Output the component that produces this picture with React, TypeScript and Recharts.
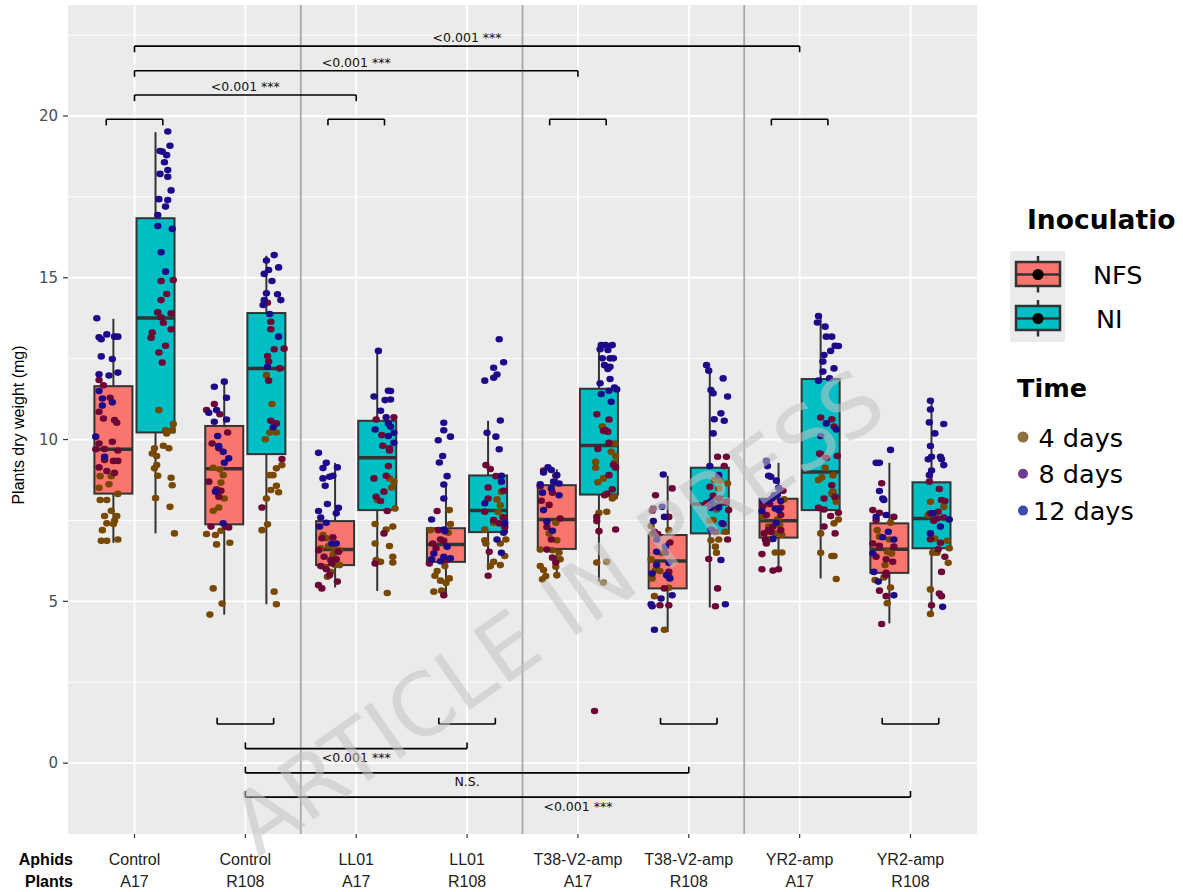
import React from "react";
import {
  ComposedChart,
  Bar,
  Scatter,
  XAxis,
  YAxis,
  CartesianGrid,
  ReferenceLine,
} from "recharts";

type Pt = [number, number]; // [x offset from the category, dry weight]
interface BoxPoints {
  d4: Pt[];
  d8: Pt[];
  d12: Pt[];
}

// ---- categories ----
const APHIDS = ["Control", "Control", "LL01", "LL01", "T38-V2-amp", "T38-V2-amp", "YR2-amp", "YR2-amp"];
const PLANTS = ["A17", "R108", "A17", "R108", "A17", "R108", "A17", "R108"];
const CAT_TICKS = [1, 2, 3, 4, 5, 6, 7, 8];
const Y_TICKS = [0, 5, 10, 15, 20];
const Y_MINOR = [2.5, 7.5, 12.5, 17.5, 22.5];
const GROUP_SEPARATORS = [2.5, 4.5, 6.5];

// ---- box statistics: [lower whisker, q1, median, q3, upper whisker] ----
const NFS_STATS = [
  [6.81, 8.33, 9.7, 11.65, 13.73],
  [4.59, 7.38, 9.1, 10.42, 11.78],
  [5.43, 6.12, 6.6, 7.48, 9.28],
  [5.19, 6.22, 6.76, 7.26, 8.62],
  [5.71, 6.62, 7.53, 8.59, 9.08],
  [4.05, 5.4, 6.25, 7.05, 8.88],
  [5.99, 6.97, 7.49, 8.17, 9.28],
  [4.32, 5.88, 6.61, 7.41, 9.28],
];
const NI_STATS = [
  [7.1, 10.22, 13.76, 16.84, 19.5],
  [4.91, 9.55, 12.2, 13.91, 15.68],
  [5.32, 7.82, 9.44, 10.58, 12.74],
  [5.97, 7.14, 7.81, 8.89, 10.58],
  [5.61, 8.3, 9.82, 11.57, 12.89],
  [4.81, 7.1, 8.01, 9.13, 12.07],
  [5.71, 7.82, 9.0, 11.87, 13.82],
  [4.68, 6.64, 7.56, 8.68, 11.2],
];

// ---- jittered plants ----
const CTRL_A17_NFS: BoxPoints = {
  d12: [[-0.34, 13.75], [-0.32, 13.16], [-0.3, 13.1], [-0.25, 13.25], [-0.18, 13.18], [-0.15, 13.18], [-0.3, 12.57], [-0.2, 12.49], [-0.32, 12.02], [-0.23, 11.98], [-0.15, 12.07], [-0.32, 11.5], [-0.29, 11.27], [-0.2, 11.15], [-0.29, 11.05], [-0.35, 10.09], [-0.27, 9.47]],
  d8: [[-0.32, 11.84], [-0.28, 11.68], [-0.22, 11.29], [-0.32, 10.86], [-0.28, 10.65], [-0.18, 10.6], [-0.16, 10.52], [-0.32, 9.88], [-0.2, 9.93], [-0.35, 9.7], [-0.27, 9.71], [-0.15, 9.66], [-0.27, 9.37], [-0.19, 9.34], [-0.15, 9.34], [-0.32, 9.14], [-0.25, 9.03], [-0.18, 8.97]],
  d4: [[-0.31, 8.87], [-0.21, 8.87], [-0.23, 8.62], [-0.32, 8.51], [-0.15, 8.32], [-0.31, 8.13], [-0.25, 8.13], [-0.21, 7.8], [-0.27, 7.64], [-0.16, 7.64], [-0.18, 7.49], [-0.25, 7.41], [-0.19, 7.39], [-0.29, 7.2], [-0.3, 6.87], [-0.25, 6.87], [-0.15, 6.91]],
};
const CTRL_A17_NI: BoxPoints = {
  d12: [[0.3, 19.52], [0.32, 19.08], [0.23, 18.92], [0.25, 18.9], [0.29, 18.79], [0.27, 18.57], [0.23, 18.21], [0.3, 18.33], [0.3, 18.12], [0.33, 17.7], [0.22, 17.43], [0.3, 17.4], [0.28, 17.2], [0.21, 16.94], [0.21, 16.6], [0.34, 16.51], [0.24, 15.79], [0.28, 15.19]],
  d8: [[0.24, 14.9], [0.35, 14.93], [0.29, 14.5], [0.24, 14.31], [0.21, 13.93], [0.33, 13.9], [0.24, 13.78], [0.26, 13.61], [0.33, 13.41], [0.16, 13.31], [0.15, 13.15], [0.28, 12.9], [0.22, 12.69], [0.25, 12.38]],
  d4: [[0.22, 10.91], [0.28, 10.29], [0.35, 10.48], [0.29, 10.19], [0.34, 10.29], [0.18, 9.73], [0.16, 9.57], [0.26, 9.81], [0.31, 9.73], [0.2, 9.49], [0.2, 9.21], [0.18, 9.11], [0.21, 8.88], [0.33, 8.82], [0.34, 8.59], [0.19, 8.19], [0.32, 7.92], [0.36, 7.1]],
};
const CTRL_R108_NFS: BoxPoints = {
  d12: [[-0.19, 11.79], [-0.28, 11.63], [-0.17, 11.29], [-0.26, 10.91], [-0.33, 10.83], [-0.28, 10.55], [-0.17, 10.62], [-0.25, 10.11], [-0.24, 9.8], [-0.2, 9.62], [-0.15, 9.42], [-0.19, 9.28], [-0.27, 8.39], [-0.2, 7.41]],
  d8: [[-0.28, 11.1], [-0.35, 10.91], [-0.23, 10.78], [-0.16, 10.22], [-0.3, 9.88], [-0.24, 9.73], [-0.33, 8.7], [-0.26, 8.46], [-0.22, 8.42], [-0.24, 8.23], [-0.31, 7.31], [-0.18, 7.31], [-0.15, 7.28]],
  d4: [[-0.29, 9.13], [-0.23, 9.08], [-0.2, 8.9], [-0.22, 8.67], [-0.19, 8.18], [-0.29, 7.8], [-0.24, 7.9], [-0.35, 7.08], [-0.27, 7.05], [-0.22, 7.18], [-0.26, 6.76], [-0.14, 6.81], [-0.29, 5.4], [-0.21, 4.93], [-0.32, 4.59]],
};
const CTRL_R108_NI: BoxPoints = {
  d12: [[0.26, 15.7], [0.19, 15.53], [0.21, 15.24], [0.3, 15.32], [0.17, 15.12], [0.24, 14.9], [0.19, 14.52], [0.29, 14.49], [0.17, 14.31], [0.32, 14.31], [0.16, 14.16], [0.22, 13.88], [0.3, 13.18], [0.2, 12.25], [0.25, 10.38]],
  d8: [[0.2, 14.23], [0.23, 13.64], [0.23, 13.41], [0.26, 12.79], [0.35, 12.81], [0.2, 12.58], [0.21, 12.41], [0.31, 12.2], [0.21, 11.82], [0.23, 10.58], [0.28, 10.5], [0.33, 9.4], [0.15, 7.9]],
  d4: [[0.19, 11.99], [0.24, 11.1], [0.18, 10.01], [0.22, 10.22], [0.28, 10.22], [0.33, 9.21], [0.28, 9.11], [0.22, 8.9], [0.25, 8.9], [0.28, 8.57], [0.23, 8.44], [0.3, 8.37], [0.19, 8.18], [0.2, 7.38], [0.15, 7.2], [0.26, 5.3], [0.28, 4.91]],
};
const LL01_A17_NFS: BoxPoints = {
  d12: [[-0.34, 9.59], [-0.27, 9.28], [-0.17, 9.14], [-0.3, 9.12], [-0.3, 8.8], [-0.24, 8.85], [-0.21, 8.88], [-0.28, 8.57], [-0.26, 8.01], [-0.16, 7.89], [-0.34, 7.79], [-0.18, 7.72], [-0.32, 7.59], [-0.27, 7.43], [-0.33, 7.31], [-0.22, 6.79], [-0.18, 6.79]],
  d8: [[-0.21, 6.98], [-0.31, 6.95], [-0.34, 6.58], [-0.16, 6.53], [-0.29, 6.38], [-0.23, 6.28], [-0.18, 6.3], [-0.32, 6.09], [-0.27, 5.99], [-0.24, 5.81], [-0.17, 5.61], [-0.34, 5.5], [-0.31, 5.4], [-0.22, 6.17]],
  d4: [[-0.3, 7.05], [-0.27, 6.95], [-0.25, 6.71], [-0.2, 6.6], [-0.32, 6.64], [-0.15, 6.58], [-0.21, 6.43], [-0.15, 6.12], [-0.28, 6.05], [-0.19, 6.12], [-0.23, 5.91], [-0.26, 5.76]],
};
const LL01_A17_NI: BoxPoints = {
  d12: [[0.2, 12.74], [0.29, 11.51], [0.31, 11.5], [0.16, 11.33], [0.26, 11.22], [0.31, 11.24], [0.22, 10.89], [0.27, 10.69], [0.29, 10.5], [0.34, 10.21], [0.31, 10.4], [0.17, 10.31], [0.29, 10.11], [0.34, 9.9]],
  d8: [[0.18, 10.62], [0.34, 10.69], [0.23, 10.14], [0.24, 9.81], [0.3, 9.73], [0.3, 9.66], [0.29, 9.18], [0.16, 8.8], [0.27, 8.88], [0.25, 8.39], [0.18, 8.23], [0.22, 8.1], [0.28, 7.79], [0.25, 7.1], [0.17, 6.17]],
  d4: [[0.3, 8.8], [0.34, 8.7], [0.32, 8.52], [0.19, 8.13], [0.35, 7.87], [0.17, 7.39], [0.33, 7.31], [0.27, 7.22], [0.17, 6.79], [0.3, 6.71], [0.33, 6.38], [0.18, 6.28], [0.22, 6.22], [0.33, 6.2], [0.28, 5.26]],
};
const LL01_R108_NFS: BoxPoints = {
  d12: [[-0.21, 10.52], [-0.21, 10.29], [-0.26, 9.98], [-0.15, 10.09], [-0.22, 9.49], [-0.25, 9.29], [-0.18, 8.87], [-0.21, 8.61], [-0.21, 8.18], [-0.32, 7.53], [-0.21, 7.22], [-0.2, 7.17], [-0.18, 6.69], [-0.3, 6.48], [-0.21, 6.38], [-0.32, 6.3], [-0.24, 6.24], [-0.15, 6.33]],
  d8: [[-0.27, 7.79], [-0.26, 7.2], [-0.31, 6.79], [-0.21, 6.87], [-0.28, 6.64], [-0.24, 6.91], [-0.18, 6.28], [-0.34, 6.17], [-0.21, 5.19]],
  d4: [[-0.16, 7.82], [-0.15, 7.39], [-0.33, 7.2], [-0.17, 7.12], [-0.2, 6.09], [-0.27, 5.94], [-0.29, 5.79], [-0.16, 5.71], [-0.24, 5.64], [-0.19, 5.57], [-0.3, 5.3], [-0.23, 5.33]],
};
const LL01_R108_NI: BoxPoints = {
  d12: [[0.29, 13.1], [0.33, 12.39], [0.24, 12.22], [0.27, 12.01], [0.24, 11.91], [0.16, 11.82], [0.3, 10.59], [0.18, 10.21], [0.26, 10.09], [0.29, 9.7], [0.31, 8.88], [0.31, 8.7], [0.16, 8.03], [0.34, 7.41], [0.27, 6.91], [0.31, 6.5], [0.33, 7.12]],
  d8: [[0.17, 9.21], [0.21, 9.09], [0.26, 8.87], [0.19, 8.52], [0.33, 8.42], [0.19, 8.18], [0.16, 7.77], [0.33, 7.59], [0.24, 7.51], [0.29, 7.41], [0.34, 7.3], [0.2, 6.53], [0.19, 5.79]],
  d4: [[0.31, 8.39], [0.27, 8.15], [0.16, 7.22], [0.3, 7.97], [0.28, 7.77], [0.32, 7.61], [0.24, 7.43], [0.16, 6.89], [0.17, 6.79], [0.3, 6.79], [0.35, 6.91], [0.34, 6.4], [0.24, 6.22], [0.21, 6.09], [0.3, 6.12]],
};
const T38_A17_NFS: BoxPoints = {
  d12: [[-0.27, 9.14], [-0.24, 9.06], [-0.31, 8.98], [-0.19, 8.9], [-0.22, 8.7], [-0.17, 8.64], [-0.34, 8.62], [-0.24, 8.49], [-0.32, 8.36], [-0.17, 8.28], [-0.31, 7.82], [-0.28, 7.46], [-0.23, 7.18]],
  d8: [[-0.31, 9.04], [-0.2, 8.89], [-0.34, 8.56], [-0.23, 8.36], [-0.33, 8.11], [-0.26, 7.98], [-0.16, 7.56], [-0.28, 7.3], [-0.24, 6.91], [-0.28, 6.6], [-0.23, 6.35], [-0.2, 6.2]],
  d4: [[-0.2, 7.43], [-0.26, 7.1], [-0.19, 6.89], [-0.34, 6.6], [-0.23, 6.58], [-0.17, 6.5], [-0.16, 6.3], [-0.2, 6.07], [-0.31, 5.97], [-0.19, 5.81], [-0.32, 5.68], [-0.34, 6.09], [-0.29, 5.78]],
};
const T38_A17_NI: BoxPoints = {
  d12: [[0.21, 12.92], [0.25, 12.92], [0.31, 12.92], [0.2, 12.79], [0.27, 12.77], [0.22, 12.51], [0.29, 12.51], [0.32, 12.51], [0.24, 12.3], [0.29, 12.25], [0.27, 12.18], [0.29, 11.87], [0.2, 11.74], [0.33, 11.61], [0.28, 11.51], [0.35, 11.55], [0.21, 11.41], [0.3, 11.17]],
  d8: [[0.17, 10.78], [0.28, 10.62], [0.25, 10.29], [0.27, 10.24], [0.23, 10.27], [0.28, 9.9], [0.18, 9.71], [0.32, 9.21], [0.34, 9.14], [0.28, 8.9], [0.31, 8.46], [0.26, 8.32], [0.24, 8.28], [0.17, 7.61], [0.17, 7.48], [0.34, 7.22], [0.19, 7.17], [0.15, 1.61]],
  d4: [[0.22, 10.4], [0.33, 9.88], [0.3, 9.62], [0.34, 9.49], [0.16, 9.31], [0.16, 9.13], [0.33, 9.28], [0.18, 8.68], [0.23, 8.8], [0.33, 8.23], [0.31, 8.18], [0.26, 7.77], [0.19, 7.74], [0.26, 6.22], [0.17, 6.2], [0.23, 5.58]],
};
const T38_R108_NFS: BoxPoints = {
  d12: [[-0.23, 8.92], [-0.24, 7.92], [-0.32, 7.48], [-0.22, 7.61], [-0.29, 6.91], [-0.21, 6.69], [-0.29, 6.53], [-0.18, 6.19], [-0.29, 6.12], [-0.33, 5.86], [-0.2, 5.81], [-0.17, 5.71], [-0.15, 5.19], [-0.25, 5.09], [-0.33, 4.85], [-0.34, 4.91], [-0.31, 4.12]],
  d8: [[-0.15, 8.49], [-0.3, 8.28], [-0.32, 7.87], [-0.33, 7.8], [-0.18, 7.61], [-0.28, 7.08], [-0.17, 6.82], [-0.21, 6.5], [-0.18, 5.91], [-0.18, 5.76], [-0.22, 5.4], [-0.18, 4.88], [-0.26, 4.88], [-0.31, 7.15]],
  d4: [[-0.34, 7.33], [-0.33, 7.08], [-0.18, 7.2], [-0.34, 6.3], [-0.25, 6.5], [-0.3, 5.97], [-0.26, 5.94], [-0.33, 5.71], [-0.18, 5.42], [-0.31, 5.16], [-0.22, 4.12]],
};
const T38_R108_NI: BoxPoints = {
  d12: [[0.16, 12.3], [0.18, 12.13], [0.31, 11.89], [0.2, 11.53], [0.22, 11.43], [0.35, 11.33], [0.29, 10.81], [0.23, 10.63], [0.32, 10.58], [0.22, 10.19], [0.27, 8.9], [0.19, 9.18], [0.2, 8.1], [0.2, 7.89], [0.27, 7.9], [0.3, 7.41], [0.2, 7.22], [0.29, 6.28], [0.33, 4.91]],
  d8: [[0.26, 9.47], [0.34, 9.47], [0.32, 9.18], [0.19, 8.54], [0.22, 8.26], [0.27, 8.18], [0.34, 8.08], [0.36, 7.82], [0.16, 8.03], [0.24, 7.15], [0.31, 7.39], [0.35, 6.91], [0.18, 6.31], [0.26, 5.4], [0.24, 4.85]],
  d4: [[0.23, 8.75], [0.28, 8.72], [0.35, 8.64], [0.27, 8.49], [0.28, 8.18], [0.25, 7.84], [0.22, 7.51], [0.19, 7.49], [0.33, 7.15], [0.27, 6.91], [0.2, 6.89], [0.24, 6.69], [0.25, 6.5]],
};
const YR2_A17_NFS: BoxPoints = {
  d12: [[-0.3, 9.34], [-0.29, 9.18], [-0.28, 8.88], [-0.26, 8.85], [-0.21, 8.73], [-0.19, 8.51], [-0.23, 8.28], [-0.2, 8.3], [-0.25, 8.18], [-0.28, 8.1], [-0.33, 8.1], [-0.17, 8.1], [-0.22, 7.87], [-0.19, 7.82], [-0.34, 7.79], [-0.21, 7.43], [-0.24, 6.93]],
  d8: [[-0.15, 8.42], [-0.33, 7.95], [-0.27, 8.01], [-0.17, 7.9], [-0.3, 7.67], [-0.17, 7.67], [-0.24, 7.31], [-0.28, 7.2], [-0.32, 7.1], [-0.17, 7.2], [-0.31, 6.91], [-0.3, 6.79], [-0.34, 6.46], [-0.34, 5.99], [-0.24, 5.95], [-0.19, 5.99], [-0.26, 7.15]],
  d4: [[-0.14, 8.15], [-0.33, 7.61], [-0.28, 7.31], [-0.2, 7.53], [-0.18, 7.36], [-0.22, 7.1], [-0.16, 7.05], [-0.28, 6.91], [-0.22, 6.51], [-0.16, 6.51]],
};
const YR2_A17_NI: BoxPoints = {
  d12: [[0.17, 13.82], [0.16, 13.62], [0.23, 13.49], [0.24, 13.18], [0.29, 13.18], [0.32, 12.9], [0.35, 12.89], [0.28, 12.74], [0.22, 12.61], [0.21, 12.41], [0.31, 12.2], [0.21, 12.1], [0.27, 11.89], [0.17, 11.82], [0.24, 10.5], [0.33, 10.31], [0.19, 10.11]],
  d8: [[0.19, 10.68], [0.29, 10.63], [0.31, 10.4], [0.18, 9.57], [0.24, 9.43], [0.34, 9.49], [0.29, 8.59], [0.22, 8.18], [0.32, 8.23], [0.17, 7.89], [0.22, 7.84], [0.35, 7.74], [0.28, 7.64], [0.22, 7.31], [0.32, 7.1], [0.19, 9.55]],
  d4: [[0.23, 9.13], [0.17, 8.75], [0.2, 8.83], [0.3, 8.9], [0.3, 8.39], [0.29, 8.32], [0.33, 8.08], [0.32, 8.21], [0.35, 7.53], [0.31, 7.41], [0.19, 7.1], [0.19, 6.5], [0.29, 6.4], [0.31, 6.4], [0.33, 5.69]],
};
const YR2_R108_NFS: BoxPoints = {
  d12: [[-0.18, 9.68], [-0.31, 9.28], [-0.28, 9.28], [-0.28, 8.41], [-0.25, 8.18], [-0.24, 8.13], [-0.31, 7.61], [-0.22, 7.67], [-0.2, 7.15], [-0.25, 6.98], [-0.15, 6.91], [-0.34, 6.48], [-0.15, 5.19], [-0.33, 5.91], [-0.29, 5.61]],
  d8: [[-0.26, 8.65], [-0.34, 7.82], [-0.28, 7.74], [-0.31, 7.51], [-0.15, 7.61], [-0.34, 6.79], [-0.28, 6.72], [-0.15, 6.69], [-0.31, 6.38], [-0.22, 6.3], [-0.16, 6.22], [-0.22, 5.88], [-0.22, 5.81], [-0.28, 5.33], [-0.22, 5.16], [-0.26, 4.3]],
  d4: [[-0.18, 7.43], [-0.3, 7.2], [-0.19, 6.91], [-0.28, 7.0], [-0.21, 6.53], [-0.17, 6.48], [-0.23, 6.12], [-0.32, 5.66], [-0.24, 5.74], [-0.18, 5.43], [-0.21, 4.94]],
};
const YR2_R108_NI: BoxPoints = {
  d12: [[0.18, 11.2], [0.18, 10.93], [0.17, 10.53], [0.3, 10.48], [0.22, 10.19], [0.18, 9.8], [0.19, 9.47], [0.27, 9.47], [0.28, 9.39], [0.16, 9.39], [0.3, 9.21], [0.19, 9.04], [0.17, 8.9], [0.2, 7.72], [0.27, 7.31], [0.35, 7.53], [0.18, 7.1], [0.29, 4.83]],
  d8: [[0.17, 8.7], [0.26, 8.47], [0.31, 8.1], [0.28, 8.13], [0.18, 7.72], [0.24, 7.56], [0.21, 7.49], [0.3, 7.59], [0.25, 7.77], [0.18, 6.92], [0.27, 6.81], [0.25, 6.61], [0.31, 6.38], [0.28, 5.91], [0.26, 5.24], [0.19, 4.88], [0.28, 5.16]],
  d4: [[0.18, 8.08], [0.3, 7.92], [0.16, 7.67], [0.22, 6.94], [0.33, 6.87], [0.24, 6.5], [0.35, 6.64], [0.34, 6.19], [0.2, 6.5], [0.18, 5.37], [0.18, 4.61]],
};

const NFS_POINTS = [CTRL_A17_NFS, CTRL_R108_NFS, LL01_A17_NFS, LL01_R108_NFS, T38_A17_NFS, T38_R108_NFS, YR2_A17_NFS, YR2_R108_NFS];
const NI_POINTS = [CTRL_A17_NI, CTRL_R108_NI, LL01_A17_NI, LL01_R108_NI, T38_A17_NI, T38_R108_NI, YR2_A17_NI, YR2_R108_NI];

// ---- significance annotations ----
const TOP_PAIRS = [1, 3, 5, 7];
const TOP_PAIR_Y = 19.9;
const BOTTOM_PAIRS = [2, 4, 6, 8];
const BOTTOM_PAIR_Y = 1.21;
const TOP_TESTS = [
  { from: 1, to: 3, y: 20.65, label: "<0.001 ***" },
  { from: 1, to: 5, y: 21.4, label: "<0.001 ***" },
  { from: 1, to: 7, y: 22.16, label: "<0.001 ***" },
];
const BOTTOM_TESTS = [
  { from: 2, to: 4, y: 0.45, label: "<0.001 ***" },
  { from: 2, to: 6, y: -0.3, label: "N.S." },
  { from: 2, to: 8, y: -1.05, label: "<0.001 ***" },
];

const TIMES: { key: keyof BoxPoints; label: string; color: string; legend: string }[] = [
  { key: "d4", label: "4 days", color: "#784800", legend: "#8C703F" },
  { key: "d8", label: "8 days", color: "#6C0536", legend: "#6E3C8C" },
  { key: "d12", label: "12 days", color: "#1C0A88", legend: "#3D4CA8" },
];

const FILL = { NFS: "#F8766D", NI: "#00BFC4" };
const DODGE = 0.19;
const BOX_WIDTH = 38;
const PAIR_HALF = 0.255;
const TICK = 0.19;

const boxRows: any[] = [];
CAT_TICKS.forEach((c, i) => {
  (
    [
      ["NFS", NFS_STATS[i]],
      ["NI", NI_STATS[i]],
    ] as [keyof typeof FILL, number[]][]
  ).forEach(([inoc, s]) => {
    boxRows.push({
      pos: c + (inoc === "NFS" ? -DODGE : DODGE),
      range: [s[0], s[4]],
      low: s[0],
      q1: s[1],
      med: s[2],
      q3: s[3],
      high: s[4],
      fill: FILL[inoc],
    });
  });
});

const pointsFor = (key: keyof BoxPoints) => {
  const out: { pos: number; val: number }[] = [];
  CAT_TICKS.forEach((c, i) => {
    [NFS_POINTS[i], NI_POINTS[i]].forEach((b) => {
      b[key].forEach(([dx, v]) => out.push({ pos: c + dx, val: v }));
    });
  });
  return out;
};

const labelRows = [
  ...TOP_TESTS.map((t) => ({ pos: (t.from + t.to) / 2, val: t.y, text: t.label, above: true })),
  ...BOTTOM_TESTS.map((t) => ({ pos: (t.from + t.to) / 2, val: t.y, text: t.label, above: false })),
];

// box drawn around the range bar that Recharts places from the lower to the upper whisker
function BoxShape(props: any) {
  const { x, y, width, height, payload } = props;
  if (x == null || y == null) return null;
  const top = Math.min(y, y + height);
  const h = Math.abs(height);
  const k = h / (payload.high - payload.low);
  const py = (v: number) => top + (payload.high - v) * k;
  const cx = x + (width || 0) / 2;
  const left = cx - BOX_WIDTH / 2;
  return (
    <g>
      <line x1={cx} x2={cx} y1={py(payload.high)} y2={py(payload.q3)} stroke="#333333" strokeWidth={2} />
      <line x1={cx} x2={cx} y1={py(payload.q1)} y2={py(payload.low)} stroke="#333333" strokeWidth={2} />
      <rect x={left} y={py(payload.q3)} width={BOX_WIDTH} height={py(payload.q1) - py(payload.q3)} fill={payload.fill} stroke="#333333" strokeWidth={2} />
      <line x1={left} x2={left + BOX_WIDTH} y1={py(payload.med)} y2={py(payload.med)} stroke="#333333" strokeWidth={3.5} />
    </g>
  );
}

function XTick(props: any) {
  const { x, y, payload } = props;
  const i = Math.round(payload.value) - 1;
  const font = { fontFamily: "'Liberation Sans', Arial, sans-serif", fontSize: 16, fill: "#222222" };
  return (
    <g>
      <text x={x} y={y + 27} textAnchor="middle" {...font}>{APHIDS[i]}</text>
      <text x={x} y={y + 49} textAnchor="middle" {...font}>{PLANTS[i]}</text>
    </g>
  );
}

const seg = (x1: number, y1: number, x2: number, y2: number, key: string) => (
  <ReferenceLine key={key} segment={[{ x: x1, y: y1 }, { x: x2, y: y2 }]} stroke="#000000" strokeWidth={1.6} ifOverflow="visible" />
);

const bracket = (x1: number, x2: number, y: number, dir: number, key: string) => [
  seg(x1, y, x2, y, key + "h"),
  seg(x1, y, x1, y + dir * TICK, key + "l"),
  seg(x2, y, x2, y + dir * TICK, key + "r"),
];

function Legends() {
  const t = { fontFamily: "'DejaVu Sans', sans-serif", fill: "#000000" };
  return (
    <g>
      <text x={1027} y={228.5} fontSize={26.5} fontWeight="bold" {...t}>Inoculatio</text>
      <rect x={1010} y={251} width={55} height={91} fill="#EBEBEB" />
      {(["NFS", "NI"] as const).map((k, i) => {
        const c = 274.5 + i * 44;
        return (
          <g key={k}>
            <line x1={1038} x2={1038} y1={c - 18.5} y2={c + 18} stroke="#333333" strokeWidth={2.5} />
            <rect x={1016} y={c - 12.5} width={44} height={24} fill={FILL[k]} stroke="#333333" strokeWidth={2.5} />
            <line x1={1016} x2={1060} y1={c} y2={c} stroke="#333333" strokeWidth={2.5} />
            <circle cx={1038} cy={c} r={5.5} fill="#000000" />
            <text x={i === 0 ? 1093 : 1096} y={c + 9.5} fontSize={25.5} {...t}>{k}</text>
          </g>
        );
      })}
      <text x={1017} y={397} fontSize={25.5} fontWeight="bold" {...t}>Time</text>
      {TIMES.map((tm, i) => (
        <g key={tm.key}>
          <circle cx={1023} cy={437 + i * 36.8} r={i === 0 ? 5.5 : 5} fill={tm.legend} />
          <text x={i === 2 ? 1033 : 1038.5} y={446.5 + i * 36.8} fontSize={25.5} {...t}>{tm.label}</text>
        </g>
      ))}
    </g>
  );
}

export default function App() {
  return (
    <div style={{ position: "relative", width: 1183, height: 892, background: "#ffffff" }}>
      <style>{"body{margin:0}"}</style>
      <ComposedChart width={1183} height={892} data={boxRows} margin={{ top: 5, right: 206, bottom: 0, left: 0 }}>
        <CartesianGrid fill="#EBEBEB" stroke="#FFFFFF" strokeWidth={0.9} vertical={false} horizontalValues={Y_MINOR} />
        <CartesianGrid stroke="#FFFFFF" strokeWidth={1.8} horizontalValues={Y_TICKS} verticalValues={CAT_TICKS} />
        <XAxis
          type="number"
          dataKey="pos"
          domain={[0.4, 8.6]}
          ticks={CAT_TICKS}
          allowDataOverflow
          height={58}
          axisLine={false}
          tickSize={4}
          tickMargin={0}
          tickLine={{ stroke: "#333333", strokeWidth: 1.2 }}
          tick={<XTick />}
          interval={0}
        />
        <YAxis
          type="number"
          domain={[-2.19, 23.43]}
          ticks={Y_TICKS}
          allowDataOverflow
          width={68}
          axisLine={false}
          tickSize={5}
          tickMargin={5}
          tickLine={{ stroke: "#333333", strokeWidth: 1.2 }}
          tick={{ fill: "#4D4D4D", fontSize: 15, fontFamily: "'DejaVu Sans', sans-serif" }}
        />
        {GROUP_SEPARATORS.map((x) => (
          <ReferenceLine key={"sep" + x} x={x} stroke="#A8A8A8" strokeWidth={1.8} />
        ))}
        <Bar dataKey="range" barSize={BOX_WIDTH} shape={<BoxShape />} isAnimationActive={false} />
        {TIMES.map((tm) => (
          <Scatter
            key={tm.key}
            data={pointsFor(tm.key)}
            dataKey="val"
            isAnimationActive={false}
            shape={(p: any) => <ellipse cx={p.cx} cy={p.cy} rx={3.7} ry={3.3} fill={tm.color} />}
          />
        ))}
        {TOP_PAIRS.map((c) => bracket(c - PAIR_HALF, c + PAIR_HALF, TOP_PAIR_Y, -1, "tp" + c))}
        {BOTTOM_PAIRS.map((c) => bracket(c - PAIR_HALF, c + PAIR_HALF, BOTTOM_PAIR_Y, 1, "bp" + c))}
        {TOP_TESTS.map((t, i) => bracket(t.from, t.to, t.y, -1, "tt" + i))}
        {BOTTOM_TESTS.map((t, i) => bracket(t.from, t.to, t.y, 1, "bt" + i))}
        <Scatter
          data={labelRows}
          dataKey="val"
          isAnimationActive={false}
          shape={(p: any) => (
            <text
              x={p.cx}
              y={p.payload.above ? p.cy - 4 : p.cy + 13.5}
              textAnchor="middle"
              fontSize={12.5}
              fontFamily="'DejaVu Sans', sans-serif"
              fill="#111111"
            >
              {p.payload.text}
            </text>
          )}
        />
      </ComposedChart>
      <svg width={1183} height={892} style={{ position: "absolute", left: 0, top: 0, pointerEvents: "none" }}>
        <text
          transform="translate(24, 425) rotate(-90)"
          textAnchor="middle"
          fontSize={16}
          fontFamily="'Liberation Sans', Arial, sans-serif"
          fill="#000000"
        >
          Plants dry weight (mg)
        </text>
        <text x={73} y={865} textAnchor="end" fontSize={16} fontWeight="bold" fontFamily="'Liberation Sans', Arial, sans-serif" fill="#000000">
          Aphids
        </text>
        <text x={73} y={887} textAnchor="end" fontSize={16} fontWeight="bold" fontFamily="'Liberation Sans', Arial, sans-serif" fill="#000000">
          Plants
        </text>
        <Legends />
        <text
          x={557}
          y={612}
          transform="rotate(-35 557 612)"
          textAnchor="middle"
          dominantBaseline="central"
          fontSize={86}
          fontWeight={400}
          fontFamily="'DejaVu Sans', sans-serif"
          fill="#C2C2C2"
          fillOpacity={0.55}
        >
          ARTICLE IN PRESS
        </text>
      </svg>
    </div>
  );
}
